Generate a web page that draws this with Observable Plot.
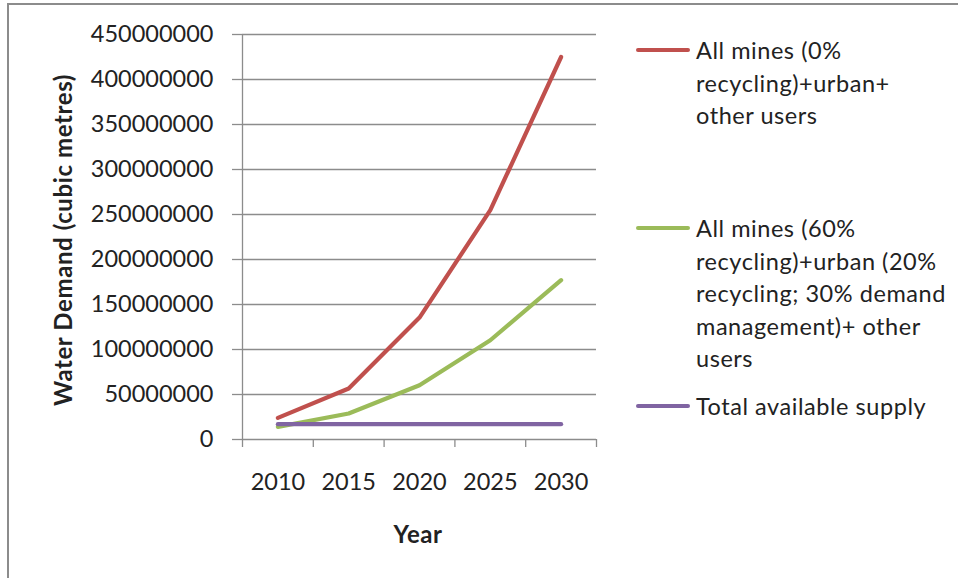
<!DOCTYPE html>
<html>
<head>
<meta charset="utf-8">
<script src="https://cdn.jsdelivr.net/npm/d3@7"></script>
<script src="https://cdn.jsdelivr.net/npm/@observablehq/plot@0.6"></script>
<style>
  html, body { margin: 0; padding: 0; background: #fff; }
  #wrap { position: relative; width: 958px; height: 578px; overflow: hidden; font-family: Lato, "Open Sans", sans-serif; color: #222; }
  #frame { position: absolute; left: 7px; top: 3px; width: 960px; height: 600px; border-left: 2px solid #8c8c8c; border-top: 2px solid #8c8c8c; }
  #chart { position: absolute; left: 0; top: 0; }
  .ytitle { position: absolute; left: 62px; top: 240px; transform: translate(-50%, -50%) rotate(-90deg); font-weight: bold; font-size: 24px; letter-spacing: 0.6px; white-space: nowrap; }
  .xtitle { position: absolute; left: 418px; top: 533px; transform: translate(-50%, -50%); font-weight: bold; font-size: 24px; letter-spacing: 0.5px; }
  .legend-item { position: absolute; left: 636px; }
  .legend-item .sw { position: absolute; left: 0; width: 54px; height: 4px; border-radius: 2px; }
  .legend-item .lab { position: absolute; left: 60px; top: 0; font-size: 23.5px; letter-spacing: 0.55px; line-height: 32.5px; white-space: nowrap; }
</style>
</head>
<body>
<div id="wrap">
  <div id="frame"></div>
  <div id="chart"></div>
  <div class="ytitle">Water Demand (cubic metres)</div>
  <div class="xtitle">Year</div>
  <div id="legend"></div>
</div>
<script>
// ---- data ----
const years = [2010, 2015, 2020, 2025, 2030];
const allMines0 = [24000000, 56700000, 135500000, 254800000, 425000000];
const allMines60 = [14000000, 28900000, 60300000, 110300000, 177000000];
const totalSupply = [17000000, 17000000, 17000000, 17000000, 17000000];
const seriesNames = [
  "All mines (0% recycling)+urban+ other users",
  "All mines (60% recycling)+urban (20% recycling; 30% demand management)+ other users",
  "Total available supply"
];
const legendLines = [
  ["All mines (0%", "recycling)+urban+", "other users"],
  ["All mines (60%", "recycling)+urban (20%", "recycling; 30% demand", "management)+ other", "users"],
  ["Total available supply"]
];
const seriesColors = ["#C0504D", "#9BBB59", "#8064A2"];
const yTicks = [0, 50000000, 100000000, 150000000, 200000000, 250000000, 300000000, 350000000, 400000000, 450000000];

// ---- table ----
const seriesValues = [allMines0, allMines60, totalSupply];
const data = [];
seriesValues.forEach((vals, i) => {
  years.forEach((yr, j) => data.push({series: seriesNames[i], year: yr, value: vals[j]}));
});
const step = years[1] - years[0];
const bounds = [years[0] - step / 2, ...years.map(y => y + step / 2)];

const W = 958, H = 578;
const chart = Plot.plot({
  width: W,
  height: H,
  marginLeft: 242,
  marginRight: 362,
  marginTop: 34,
  marginBottom: 139,
  style: {fontFamily: "Lato, 'Open Sans', sans-serif", fontSize: "23.5px", color: "#222", background: "transparent"},
  x: {type: "linear", domain: [bounds[0], bounds[bounds.length - 1]], axis: null},
  y: {domain: [0, yTicks[yTicks.length - 1]], axis: null},
  color: {domain: seriesNames, range: seriesColors},
  marks: [
    Plot.gridY(yTicks, {stroke: "#8c8c8c", strokeOpacity: 1, strokeWidth: 1.3}),
    Plot.ruleX([bounds[0]], {stroke: "#8c8c8c", strokeWidth: 1.3}),
    Plot.axisY({ticks: yTicks, tickSize: 10, tickPadding: 19, tickFormat: d3.format("d"), label: null, stroke: "#8c8c8c", fill: "#222", strokeWidth: 1.3}),
    Plot.axisX({ticks: bounds, tickSize: 8, tickFormat: () => "", label: null, stroke: "#8c8c8c", strokeWidth: 1.3}),
    Plot.axisX({ticks: years, tickSize: 0, tickPadding: 34, tickFormat: d3.format("d"), label: null, fill: "#222"}),
    Plot.line(data, {x: "year", y: "value", z: "series", stroke: "series", strokeWidth: 4.2, strokeLinecap: "round", strokeLinejoin: "round"})
  ]
});
document.getElementById("chart").appendChild(chart);

// ---- legend ----
const legendSwatchY = [50, 228, 405.5];
const legend = document.getElementById("legend");
seriesNames.forEach((name, i) => {
  const item = document.createElement("div");
  item.className = "legend-item";
  const top = legendSwatchY[i] - 16;
  item.style.top = top + "px";
  const sw = document.createElement("div");
  sw.className = "sw";
  sw.style.background = seriesColors[i];
  sw.style.top = "14px";
  const lab = document.createElement("div");
  lab.className = "lab";
  lab.innerHTML = legendLines[i].join("<br>");
  item.appendChild(sw);
  item.appendChild(lab);
  legend.appendChild(item);
});
</script>
</body>
</html>
